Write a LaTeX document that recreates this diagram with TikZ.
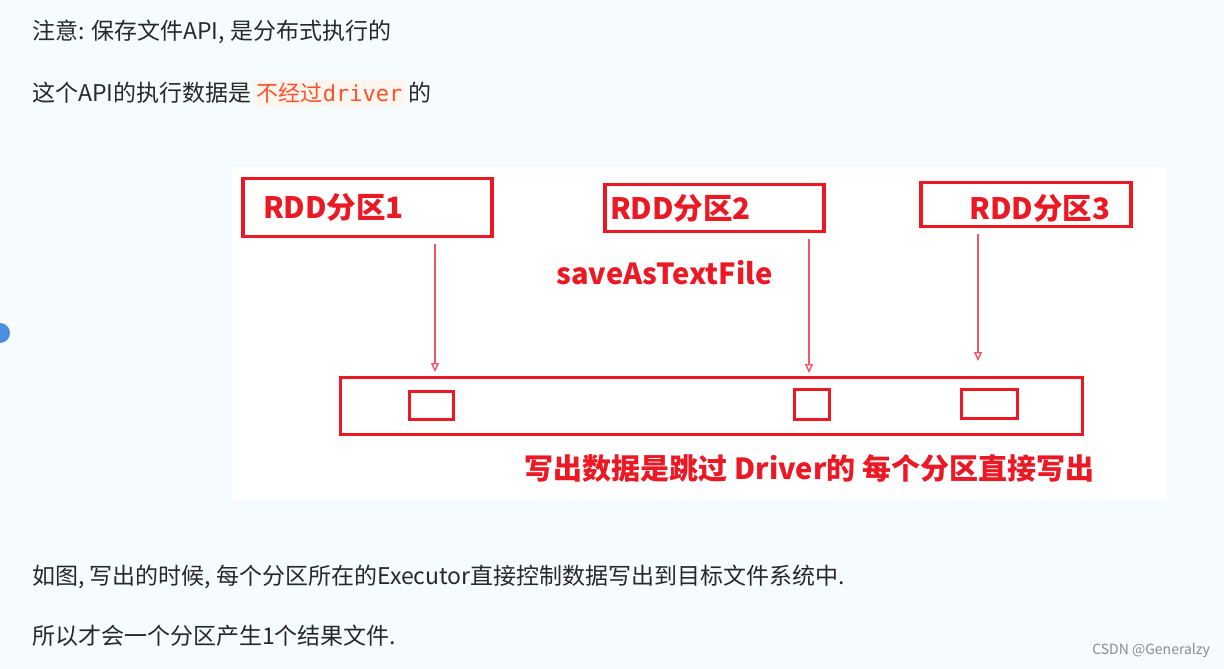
\documentclass[tikz,border=0pt]{standalone}
\usepackage{fontspec}
\setmainfont{Noto Sans CJK SC}
\setmonofont{DejaVu Sans Mono}
\usetikzlibrary{arrows.meta, positioning}
\definecolor{pagebg}{RGB}{246,251,255}
\definecolor{mark}{RGB}{236,24,36}
\definecolor{arrowred}{RGB}{242,84,104}
\definecolor{codefg}{RGB}{255,80,44}
\definecolor{codebg}{RGB}{252,246,238}
\definecolor{bodytext}{RGB}{40,40,40}
\definecolor{dot}{RGB}{74,143,223}

\begin{document}
\begin{tikzpicture}[x=1pt, y=-1pt,
  body/.style={anchor=west, inner sep=0pt, text=bodytext,
               font=\fontsize{23}{27}\selectfont},
  rddbox/.style={rectangle, draw=mark, line width=3.2pt, inner ysep=0pt,
                 text=mark, font=\fontsize{29.5}{32}\selectfont\bfseries},
  filebox/.style={rectangle, draw=mark, line width=3.2pt, inner sep=0pt},
  note/.style={text=mark, inner sep=0pt, font=\fontsize{29}{32}\selectfont\bfseries},
  code/.style={fill=codebg, rounded corners=3pt, text=codefg, inner xsep=3pt,
               minimum height=27pt, font=\fontsize{22}{26}\selectfont},
  arr/.style={-{Triangle[open, length=9pt, width=8pt]}, line width=1.4pt,
              arrowred, shorten <=6pt}
]
\useasboundingbox (0,0) rectangle (1224,669);
\fill[pagebg] (0,0) rectangle (1224,669);
\fill[white] (232,167) rectangle (1166,500);
\fill[dot] (0,333) circle (10);

% text above the picture
\node[body] (l1) at (32,32) {注意: 保存文件API, 是分布式执行的};
\node[body] (l2) at (32,93) {这个API的执行数据是};
\node[code, right=2pt of l2] (nodrv) {不经过\texttt{driver}};
\node[body, right=3pt of nodrv] (l2b) {的};

% partitions
\node[rddbox, minimum height=58pt, text width=209pt, inner xsep=20pt, align=left]
  (p1) at (367.5,207.5) {RDD分区1};
\node[rddbox, minimum height=47pt, text width=209pt, inner xsep=5pt, align=left]
  (p2) at (714.5,208) {RDD分区2};
\node[rddbox, minimum height=44pt, text width=168pt, inner xsep=21pt, align=right,
      text height=33pt, text depth=3pt]
  (p3) at (1026,204.5) {RDD分区3};
\node[note] (save) at (664.5,273) {saveAsTextFile};

% target file system
\node[filebox, minimum width=742pt, minimum height=57pt] (fs) at (711.5,406) {};
\node[filebox, minimum width=44pt, minimum height=28pt] (f1) at (431.5,405.5) {};
\node[filebox, minimum width=35pt, minimum height=30pt] (f2) at (812,404.5) {};
\node[filebox, minimum width=56pt, minimum height=29pt] (f3) at (989.5,404) {};
\node[note] (skip) at (809.5,468) {写出数据是跳过 Driver的 每个分区直接写出};

\coordinate (t1) at (435,372);
\coordinate (t2) at (809,373);
\coordinate (t3) at (978,361);
\draw[arr] (p1.south -| t1) -- (t1);
\draw[arr] (p2.south -| t2) -- (t2);
\draw[arr] (p3.south -| t3) -- (t3);

% text below the picture
\node[body] (l3) at (32,577) {如图, 写出的时候, 每个分区所在的Executor直接控制数据写出到目标文件系统中.};
\node[body] (l4) at (32,636) {所以才会一个分区产生1个结果文件.};
\node[anchor=east, inner sep=0pt, text=black!45, font=\fontsize{14}{16}\selectfont]
  (wm) at (1210,651) {CSDN @Generalzy};
\end{tikzpicture}
\end{document}
